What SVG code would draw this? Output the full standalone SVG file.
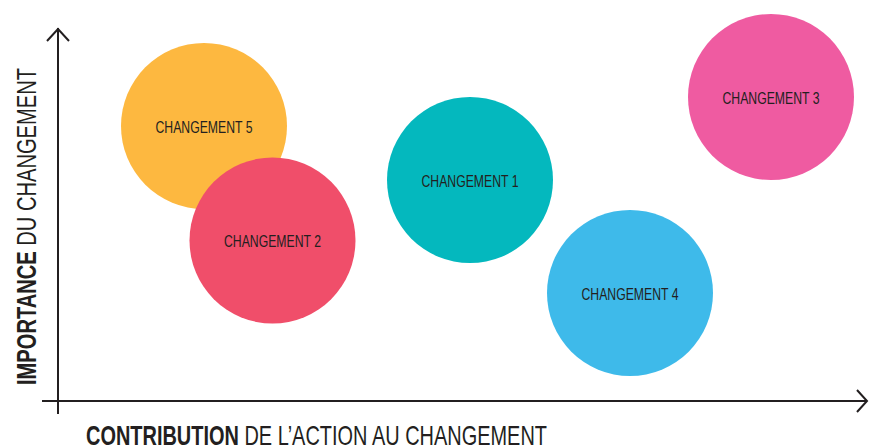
<svg xmlns="http://www.w3.org/2000/svg" width="870" height="448" viewBox="0 0 870 448">
<style>
.lbl{font-family:"Liberation Sans",Arial,sans-serif;font-size:16.5px;fill:#231F20;text-anchor:middle}
.ax{stroke:#231F20;stroke-width:2;fill:none}
.axt{font-family:"Liberation Sans",Arial,sans-serif;font-size:28px;fill:#231F20}
.b{font-weight:bold}
</style>
<rect width="870" height="448" fill="#ffffff"/>
<g id="connectors">
<path class="ax" d="M58,28 L58,414"/>
<path class="ax" d="M47,41 L58,29 L69,41"/>
<path class="ax" d="M42,401 L867,401"/>
<path class="ax" d="M857,390 L867,401 L857,412"/>
</g>
<g id="node-5"><circle cx="204" cy="126" r="83" fill="#FDB840"/><text class="lbl" x="204" y="133" textLength="97" lengthAdjust="spacingAndGlyphs">CHANGEMENT 5</text></g>
<g id="node-2"><circle cx="272.5" cy="240.5" r="83" fill="#F04E6A"/><text class="lbl" x="272.5" y="247" textLength="97" lengthAdjust="spacingAndGlyphs">CHANGEMENT 2</text></g>
<g id="node-1"><circle cx="470" cy="180" r="83" fill="#04B8BE"/><text class="lbl" x="470" y="187" textLength="97" lengthAdjust="spacingAndGlyphs">CHANGEMENT 1</text></g>
<g id="node-3"><circle cx="771" cy="97" r="83" fill="#EF5BA1"/><text class="lbl" x="771" y="104" textLength="97" lengthAdjust="spacingAndGlyphs">CHANGEMENT 3</text></g>
<g id="node-4"><circle cx="630" cy="293" r="83" fill="#3EBAEA"/><text class="lbl" x="630" y="300" textLength="97" lengthAdjust="spacingAndGlyphs">CHANGEMENT 4</text></g>
<g id="axis-labels">
<text class="axt" x="86" y="445" textLength="461" lengthAdjust="spacingAndGlyphs"><tspan class="b">CONTRIBUTION</tspan> DE L’ACTION AU CHANGEMENT</text>
<text class="axt" transform="translate(36,385) rotate(-90)" x="0" y="0" textLength="317" lengthAdjust="spacingAndGlyphs"><tspan class="b">IMPORTANCE</tspan> DU CHANGEMENT</text>
</g>
</svg>
